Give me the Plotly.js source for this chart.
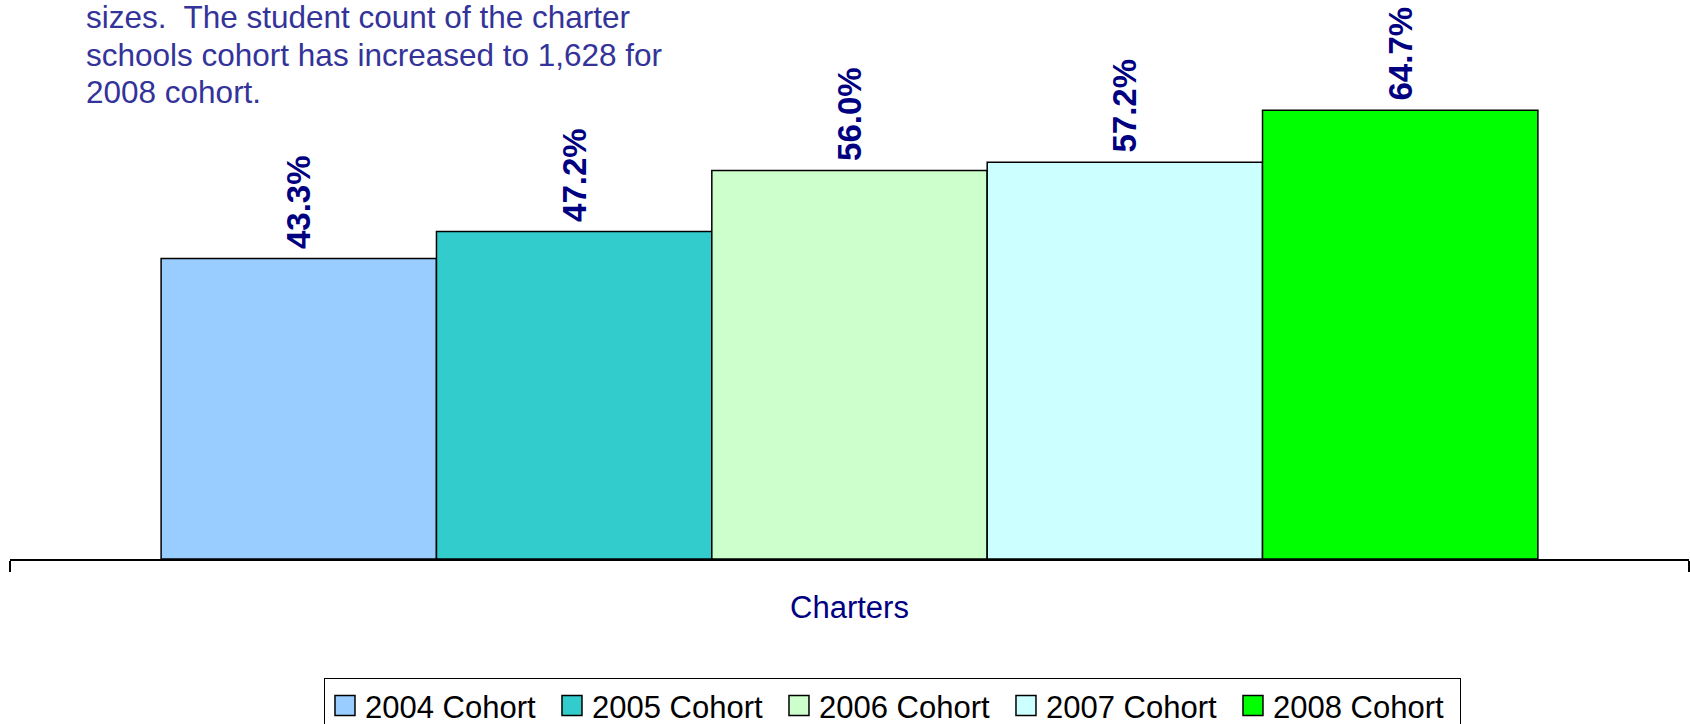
<!DOCTYPE html>
<html>
<head>
<meta charset="utf-8">
<script src="https://cdn.plot.ly/plotly-3.0.1.min.js"></script>
<style>
  html, body { margin: 0; padding: 0; background: #fff; }
  #chart { width: 1690px; height: 724px; }
</style>
</head>
<body>
<div id="chart"></div>
<script>
// Data
var category = ["Charters"];
var cohorts = ["2004 Cohort", "2005 Cohort", "2006 Cohort", "2007 Cohort", "2008 Cohort"];
var values = [43.3, 47.2, 56.0, 57.2, 64.7];
var colors = ["#99CCFF", "#33CCCC", "#CCFFCC", "#CCFFFF", "#00FF00"];
var noteLines = [
  "sizes.  The student count of the charter",
  "schools cohort has increased to 1,628 for",
  "2008 cohort."
];

var FONT = "Arial, 'Liberation Sans', sans-serif";

var traces = cohorts.map(function (name, i) {
  return {
    type: "bar",
    name: name,
    x: category,
    y: [values[i]],
    marker: { color: colors[i], line: { color: "#000000", width: 1.5 } },
    // leading thin space gives the label a little more clearance above the bar
    text: ["\u2009" + values[i].toFixed(1) + "%"],
    textposition: "outside",
    textangle: -90,
    cliponaxis: false,
    textfont: { family: FONT, size: 33, color: "#000080", weight: "bold" },
    hoverinfo: "skip"
  };
});

// note text: one annotation per line, stacked from the top
var noteAnnotations = noteLines.map(function (line, i) {
  return {
    xref: "paper", yref: "paper",
    x: 0.044, y: 0.977 - i * 0.068,
    xanchor: "left", yanchor: "middle",
    align: "left",
    showarrow: false,
    text: line,
    font: { family: FONT, size: 31.5, color: "#333399" }
  };
});

var layout = {
  width: 1690,
  height: 724,
  paper_bgcolor: "#ffffff",
  plot_bgcolor: "#ffffff",
  margin: { l: 10, r: 1, t: 4, b: 165, autoexpand: false },
  barmode: "group",
  bargap: 0.18,
  bargroupgap: 0,
  font: { family: FONT, color: "#000000" },
  xaxis: {
    type: "category",
    showline: true,
    linecolor: "#000000",
    linewidth: 2,
    ticks: "outside",
    tickson: "boundaries",
    ticklen: 11,
    tickwidth: 2,
    tickcolor: "#000000",
    ticklabelstandoff: 20,
    tickfont: { family: FONT, size: 31, color: "#000080" },
    showgrid: false,
    zeroline: false
  },
  yaxis: {
    range: [0, 80],
    visible: false,
    showgrid: false,
    zeroline: false
  },
  showlegend: true,
  legend: {
    orientation: "h",
    x: 0.5256,
    xanchor: "center",
    y: -0.214,
    yanchor: "top",
    bordercolor: "#000000",
    borderwidth: 1,
    entrywidth: 182,
    entrywidthmode: "pixels",
    font: { family: FONT, size: 31, color: "#000000" },
    traceorder: "normal"
  },
  annotations: noteAnnotations
};

Plotly.newPlot("chart", traces, layout, { displayModeBar: false, staticPlot: true }).then(function (gd) {
  // enlarge the legend colour swatches to match the reference
  var paths = gd.querySelectorAll(".legend .legendpoints path");
  paths.forEach(function (p) { p.setAttribute("d", "M10,10H-10V-10H10Z"); });
});
</script>
</body>
</html>
